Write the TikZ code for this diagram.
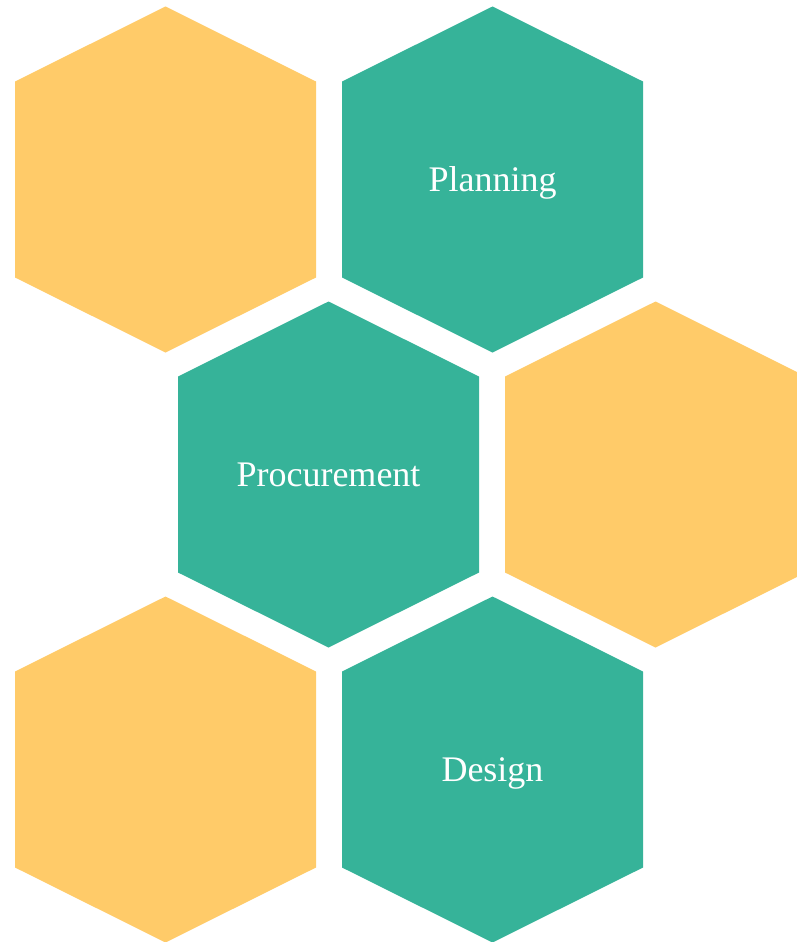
\documentclass[tikz,border=0pt]{standalone}
\usepackage{fontspec}
\setmainfont{Liberation Serif}
\usepackage{tikz}

\definecolor{honey}{HTML}{FFCB69}
\definecolor{jade}{HTML}{36B399}

\tikzset{
  hexcell/.pic={
    \fill (0,-173) -- (150.5,-98) -- (150.5,98) -- (0,173)
          -- (-150.5,98) -- (-150.5,-98) -- cycle;
  },
  celltext/.style={text=white, font=\fontsize{36}{43}\selectfont,
    text height=24pt, text depth=0pt, inner sep=0pt}
}

\begin{document}
\begin{tikzpicture}[x=1pt,y=-1pt]
    \useasboundingbox (0,0) rectangle (796,942);
    % cell centres
    \coordinate (topleft) at (165.5,179.5);
    \coordinate (topright) at (492.5,179.5);
    \coordinate (midleft) at (328.5,474.5);
    \coordinate (midright) at (655.5,474.5);
    \coordinate (lowleft) at (165.5,769.5);
    \coordinate (lowright) at (492.5,769.5);
    % cells
    \pic[color=honey, fill=honey] at (topleft) {hexcell};
    \pic[color=jade, fill=jade] at (topright) {hexcell};
    \pic[color=jade, fill=jade] at (midleft) {hexcell};
    \pic[color=honey, fill=honey] at (midright) {hexcell};
    \pic[color=honey, fill=honey] at (lowleft) {hexcell};
    \pic[color=jade, fill=jade] at (lowright) {hexcell};
    % labels
    \node[celltext] (planning) at (topright) {Planning};
    \node[celltext] (procurement) at (midleft) {Procurement};
    \node[celltext] (design) at (lowright) {Design};
\end{tikzpicture}
\end{document}
